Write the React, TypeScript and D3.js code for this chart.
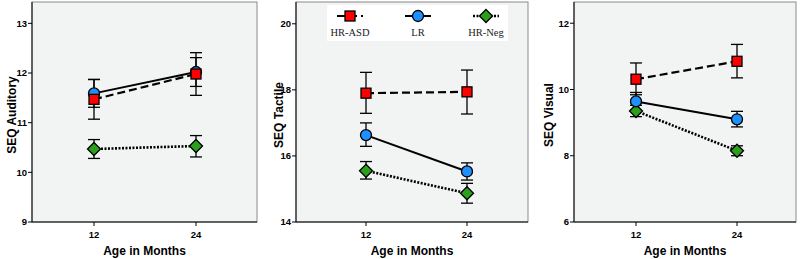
import React from "react";
import * as d3 from "d3";

const ages = [12, 24];
const groups = ["HR-ASD", "LR", "HR-Neg"];

// Auditory
const audMean = { "HR-ASD": [11.47, 11.98], LR: [11.59, 12.02], "HR-Neg": [10.47, 10.53] };
const audLo = { "HR-ASD": [11.07, 11.55], LR: [11.31, 11.73], "HR-Neg": [10.28, 10.31] };
const audHi = { "HR-ASD": [11.87, 12.41], LR: [11.87, 12.31], "HR-Neg": [10.66, 10.74] };
// Tactile
const tacMean = { "HR-ASD": [17.9, 17.94], LR: [16.63, 15.53], "HR-Neg": [15.55, 14.87] };
const tacLo = { "HR-ASD": [17.29, 17.27], LR: [16.29, 15.27], "HR-Neg": [15.3, 14.57] };
const tacHi = { "HR-ASD": [18.53, 18.6], LR: [17.0, 15.79], "HR-Neg": [15.83, 15.17] };
// Visual
const visMean = { "HR-ASD": [10.31, 10.85], LR: [9.64, 9.1], "HR-Neg": [9.35, 8.15] };
const visLo = { "HR-ASD": [9.84, 10.35], LR: [9.37, 8.87], "HR-Neg": [9.18, 8.0] };
const visHi = { "HR-ASD": [10.8, 11.36], LR: [9.91, 9.34], "HR-Neg": [9.52, 8.3] };

const audTicks = [9, 10, 11, 12, 13];
const tacTicks = [14, 16, 18, 20];
const visTicks = [6, 8, 10, 12];

const panels = [
  { title: "SEQ Auditory", mean: audMean, lo: audLo, hi: audHi, ticks: audTicks, yDomain: [9, 13.43], left: 32, right: 257, padL: 62, padR: 61, titleX: 16, legend: false },
  { title: "SEQ Tactile", mean: tacMean, lo: tacLo, hi: tacHi, ticks: tacTicks, yDomain: [14, 20.66], left: 296, right: 528, padL: 70, padR: 61, titleX: 283, legend: true },
  { title: "SEQ Visual", mean: visMean, lo: visLo, hi: visHi, ticks: visTicks, yDomain: [6, 12.64], left: 574, right: 796, padL: 62, padR: 59, titleX: 553, legend: false },
];

const styles = {
  "HR-ASD": { fill: "#ff0000", dash: "8,4", width: 2.2, shape: "square" },
  LR: { fill: "#1e90ff", dash: null, width: 2, shape: "circle" },
  "HR-Neg": { fill: "#2ca01c", dash: "2,1.5", width: 2.6, shape: "diamond" },
};

const drawOrder = ["HR-Neg", "LR", "HR-ASD"];

function Marker({ g, x, y }) {
  const s = styles[g];
  if (s.shape === "square")
    return <rect x={x - 5} y={y - 5} width={10} height={10} fill={s.fill} stroke="#000" strokeWidth={1.3} />;
  if (s.shape === "circle") return <circle cx={x} cy={y} r={5.5} fill={s.fill} stroke="#000" strokeWidth={1.3} />;
  return (
    <path
      d={`M${x},${y - 6.5}L${x + 6.5},${y}L${x},${y + 6.5}L${x - 6.5},${y}Z`}
      fill={s.fill}
      stroke="#000"
      strokeWidth={1.3}
    />
  );
}

const TOP = 2;
const BOTTOM = 222;

function Panel({ p }) {
  const y = d3.scaleLinear().domain(p.yDomain).range([BOTTOM, TOP]);
  const x = d3.scaleLinear().domain([12, 24]).range([p.left + p.padL, p.right - p.padR]);
  const line = d3.line().x((d: any) => x(d[0])).y((d: any) => y(d[1]));
  const cx = (p.left + p.right) / 2;
  const cy = (TOP + BOTTOM) / 2 + 3;
  const font = "Arial, 'Liberation Sans', sans-serif";
  return (
    <g>
      <rect x={p.left} y={TOP} width={p.right - p.left} height={BOTTOM - TOP} fill="#f2f3f3" stroke="#8a8a8a" strokeWidth={1} />
      <line x1={p.left} x2={p.left} y1={TOP} y2={BOTTOM} stroke="#000" strokeWidth={1} />
      <line x1={p.left} x2={p.right} y1={BOTTOM} y2={BOTTOM} stroke="#000" strokeWidth={1} />
      {p.ticks.map((t) => (
        <g key={t}>
          <line x1={p.left - 4} x2={p.left} y1={y(t)} y2={y(t)} stroke="#000" />
          <text x={p.left - 5} y={y(t)} dy="0.35em" textAnchor="end" fontFamily={font} fontWeight="bold" fontSize={9.5}>
            {t}
          </text>
        </g>
      ))}
      {ages.map((a) => (
        <g key={a}>
          <line x1={x(a)} x2={x(a)} y1={BOTTOM} y2={BOTTOM + 4} stroke="#000" />
          <text x={x(a)} y={238} textAnchor="middle" fontFamily={font} fontWeight="bold" fontSize={9.5}>
            {a}
          </text>
        </g>
      ))}
      <text x={cx} y={255} textAnchor="middle" fontFamily={font} fontWeight="bold" fontSize={12}>
        Age in Months
      </text>
      <text
        transform={`translate(${p.titleX},${cy}) rotate(-90)`}
        textAnchor="middle"
        fontFamily={font}
        fontWeight="bold"
        fontSize={12}
      >
        {p.title}
      </text>
      {drawOrder.map((g) => {
        const s = styles[g];
        const pts = ages.map((a, i) => [a, p.mean[g][i]]);
        return (
          <g key={g}>
            <path d={line(pts as any) as string} fill="none" stroke="#000" strokeWidth={s.width} strokeDasharray={s.dash || undefined} />
            {ages.map((a, i) => (
              <g key={a} stroke="#000" strokeWidth={1.3}>
                <line x1={x(a)} x2={x(a)} y1={y(p.lo[g][i])} y2={y(p.hi[g][i])} />
                <line x1={x(a) - 6} x2={x(a) + 6} y1={y(p.lo[g][i])} y2={y(p.lo[g][i])} />
                <line x1={x(a) - 6} x2={x(a) + 6} y1={y(p.hi[g][i])} y2={y(p.hi[g][i])} />
              </g>
            ))}
          </g>
        );
      })}
      {drawOrder.map((g) => (
        <g key={g}>
          {ages.map((a, i) => (
            <Marker key={a} g={g} x={x(a)} y={y(p.mean[g][i])} />
          ))}
        </g>
      ))}
      {p.legend && <Legend />}
    </g>
  );
}

function Legend() {
  const lx = [350, 418, 486];
  return (
    <g>
      <rect x={327} y={5} width={181} height={36} fill="#ffffff" />
      {groups.map((g, i) => {
        const s = styles[g];
        return (
          <g key={g}>
            <line x1={lx[i] - 13} x2={lx[i] + 13} y1={16} y2={16} stroke="#000" strokeWidth={s.width} strokeDasharray={s.dash || undefined} />
            <Marker g={g} x={lx[i]} y={16} />
            <text x={lx[i]} y={36} textAnchor="middle" fontFamily="'Liberation Serif', 'Times New Roman', serif" fontSize={10.5} fill="#222">
              {g}
            </text>
          </g>
        );
      })}
    </g>
  );
}

export default function App() {
  return (
    <svg width={800} height={259} style={{ display: "block", position: "absolute", left: 0, top: 0, background: "#fff" }}>
      {panels.map((p) => (
        <Panel key={p.title} p={p} />
      ))}
    </svg>
  );
}
